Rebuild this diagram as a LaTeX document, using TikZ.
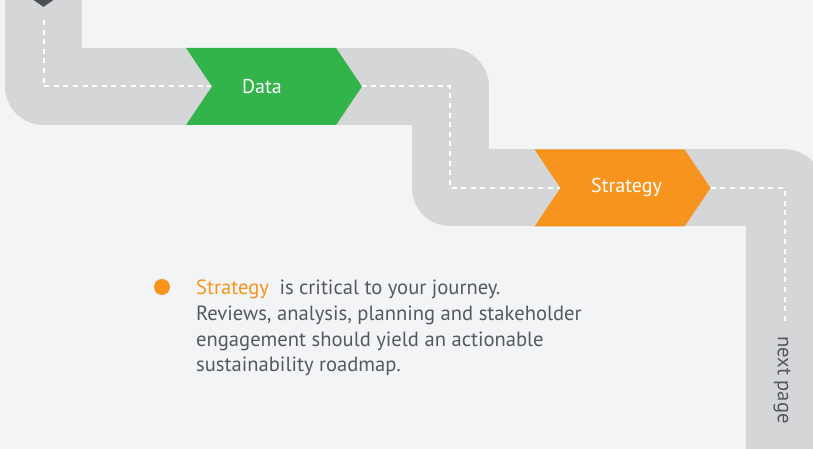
\documentclass[tikz,border=0pt]{standalone}
\usepackage{fontspec}
\setmainfont{PT Sans}
\usetikzlibrary{shapes.symbols,shapes.geometric}
\definecolor{paper}{HTML}{F3F4F6}
\definecolor{roadgray}{HTML}{D5D6D8}
\definecolor{datagreen}{HTML}{33B44A}
\definecolor{stratorange}{HTML}{F7941E}
\definecolor{inkgray}{HTML}{55595E}
\definecolor{markgray}{HTML}{4B4E53}
\begin{document}
\begin{tikzpicture}
[x=1pt,y=1pt,
 road/.style={draw=roadgray, line width=77pt, line join=round},
 lane/.style={draw=white, line width=2pt, dash pattern=on 5pt off 4.6pt},
 chevron/.style={shape=signal, signal from=west, signal to=east,
                 signal pointer angle=112, minimum width=176pt,
                 minimum height=77pt, inner sep=0pt, outer sep=0pt},
 steptext/.style={text=white, font=\fontsize{20}{24}\selectfont},
 bodytext/.style={text=inkgray, font=\fontsize{20.6}{25.7}\selectfont}]
\fill[paper] (0,0) rectangle (813,449);
\useasboundingbox (0,0) rectangle (813,449);
\clip (0,0) rectangle (813,449);
% path of the road
\coordinate (start) at (43.5,470);
\coordinate (lanetop) at (43.5,429);
\coordinate (bendA) at (450,362.5);
\coordinate (bendB) at (784.5,261);
\coordinate (finish) at (784.5,-20);
\coordinate (laneend) at (784.5,124);
\draw[road] (start) |- (bendA) |- (bendB) -- (finish);
\draw[lane] (lanetop) |- (bendA) |- (bendB) -- (laneend);
\node[diamond, fill=markgray, minimum width=20pt, minimum height=14pt,
      inner sep=0pt] (entry) at (43.5,449) {};
% steps
\node[chevron, fill=datagreen] (data) at (274,362.5) {};
\node[steptext] (datalabel) at ([xshift=-12pt]data.center) {Data};
\node[chevron, fill=stratorange] (strategy) at (622.5,261) {};
\node[steptext] (strategylabel) at ([xshift=4pt]strategy.center) {Strategy};
% note
\node[circle, fill=stratorange, minimum size=16pt, inner sep=0pt] (dot) at (162,162) {};
\node[bodytext, anchor=north west, inner sep=0pt, align=left] (note) at (196,169)
  {\textcolor{stratorange}{Strategy}\hspace{5pt} is critical to your journey.\\
   Reviews, analysis, planning and stakeholder\\
   engagement should yield an actionable\\
   sustainability roadmap.};
\node[bodytext, rotate=-90, text=inkgray] (nextpage) at (782,69) {next page};
\end{tikzpicture}
\end{document}
